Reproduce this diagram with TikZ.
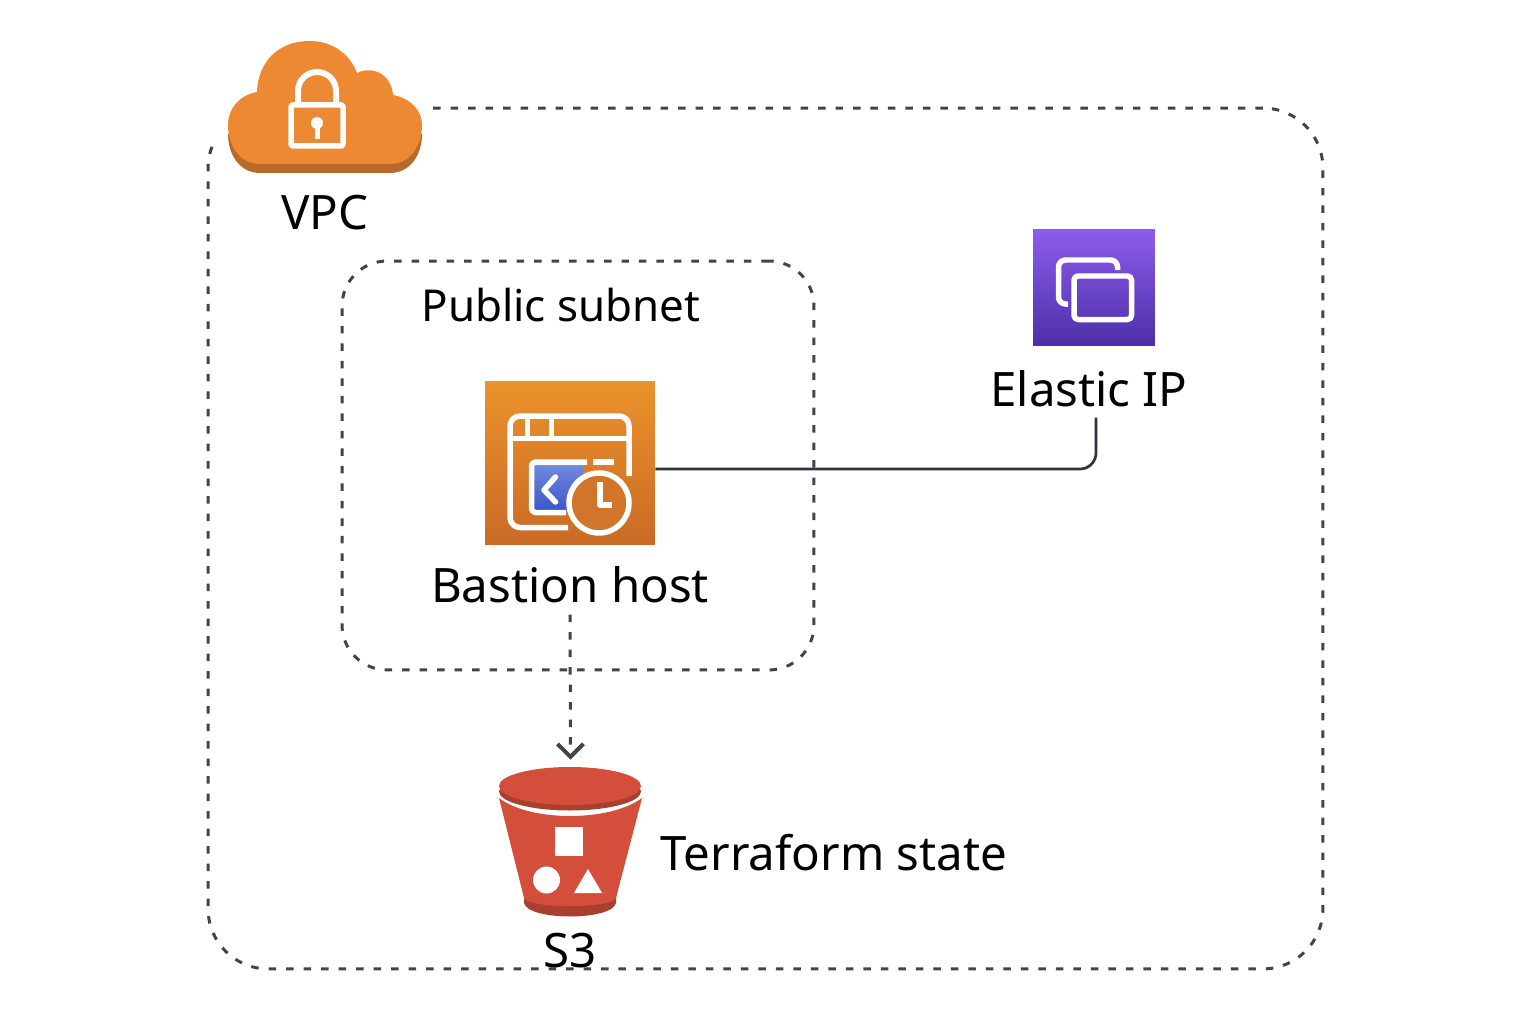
\documentclass[tikz,border=0pt]{standalone}
\usepackage{fontspec}
\setmainfont{Noto Sans}
\usetikzlibrary{arrows.meta, positioning}
\definecolor{boxline}{HTML}{444444}
\definecolor{linkline}{HTML}{2E3440}
\definecolor{cloudfg}{HTML}{EE8933}
\definecolor{cloudbg}{HTML}{B96A2B}
\definecolor{bucketfg}{HTML}{D34E3B}
\definecolor{bucketbg}{HTML}{A8402F}
\definecolor{hosttop}{HTML}{EB932C}
\definecolor{hostbot}{HTML}{C96A26}
\definecolor{clockbg}{HTML}{D2752A}
\definecolor{paneltop}{HTML}{7088DD}
\definecolor{panelbot}{HTML}{3D55CB}
\definecolor{eiptop}{HTML}{8C5CEC}
\definecolor{eipbot}{HTML}{4D2FA8}

\begin{document}
\begin{tikzpicture}[
    x=0.02cm, y=-0.02cm,
    every node/.style={font=\fontsize{27}{31}\selectfont, inner sep=0pt},
    region/.style={rectangle, draw=boxline, line width=0.06cm,
                   dash pattern=on 0.15cm off 0.2cm},
    ghost/.style={rectangle, minimum width=#1},
    glyph/.style={draw=white, line width=0.11cm, line join=round},
    arr/.style={-{Straight Barb[length=0.26cm, width=0.52cm, line width=0.08cm]},
                draw=boxline, line width=0.06cm, dash pattern=on 0.15cm off 0.2cm},
    link/.style={draw=linkline, line width=0.055cm, rounded corners=0.32cm}
]
    \useasboundingbox (0,0) rectangle (1536,1024);

    % regions
    \node[region, rounded corners=1.2cm, minimum width=22.3cm, minimum height=17.22cm] (vpc) at (765.5,538.5) {};
    \node[region, rounded corners=0.9cm, minimum width=9.44cm, minimum height=8.18cm] (subnet) at (578,465.5) {};
    \fill[white] (214,30) rectangle (424,180);

    % cloud
    \node[ghost=3.88cm, minimum height=2.66cm] (cloud) at (325,107) {};
    \fill[cloudbg, yshift=-0.18cm] (260,164) .. controls (240,164) and (228,146) .. (228,125) -- (422,125) .. controls (422,146) and (410,164) .. (390,164) -- cycle;
    \fill[cloudfg] (260,164) .. controls (240,164) and (228,146) .. (228,125)
        .. controls (228,108) and (240,95) .. (257,92)
        .. controls (258,62) and (278,41) .. (310,41)
        .. controls (332,41) and (350,54) .. (357,73)
        .. controls (370,66) and (391,72) .. (393,95)
        .. controls (410,98) and (422,110) .. (422,125)
        .. controls (422,146) and (410,164) .. (390,164) -- cycle;
    \draw[glyph, rounded corners=0.04cm] (291,105) rectangle (343,146);
    \draw[glyph, line width=0.12cm] (298,105) -- (298,91) arc[start angle=180, end angle=360, radius=19] -- (336,105);
    \fill[white] (317,123) circle[radius=6];
    \fill[white] (314.5,123) rectangle (319.5,139);
    \node[below=0.42cm of cloud] (vpclabel) {VPC};

    \node[above=0pt, font=\fontsize{25}{29}\selectfont] (subnetlabel) at (561,322) {Public subnet};

    % bastion host
    \node[rectangle, minimum width=3.4cm, minimum height=3.28cm, top color=hosttop, bottom color=hostbot] (bastion) at (570,463) {};
    \draw[glyph, rounded corners=0.2cm] (568,527.5) -- (510,527.5) -- (510,416) -- (629,416) -- (629,476);
    \draw[glyph] (510,438.5) -- (629,438.5);
    \draw[glyph] (527.5,416) -- (527.5,438.5);
    \draw[glyph] (551.5,416) -- (551.5,438.5);
    \fill[top color=paneltop, bottom color=panelbot] (534,466) rectangle (583,510);
    \draw[glyph, rounded corners=0.08cm] (587,462) -- (531.5,462) -- (531.5,512.5) -- (566,512.5);
    \draw[glyph] (593,462) -- (614,462);
    \draw[glyph, line cap=round] (555.5,477) -- (544,490) -- (555.5,502);
    \draw[glyph, fill=clockbg] (599,503) circle[radius=30];
    \draw[glyph] (600,482) -- (600,505) -- (612,505);
    \node[below=0.42cm of bastion] (bastionlabel) {Bastion host};

    % elastic ip
    \node[rectangle, minimum width=2.44cm, minimum height=2.34cm, top color=eiptop, bottom color=eipbot] (eip) at (1094,287.5) {};
    \draw[glyph, rounded corners=0.14cm] (1068,304) -- (1058.5,304) -- (1058.5,260) -- (1117.5,260) -- (1117.5,270);
    \draw[glyph, rounded corners=0.08cm] (1074,276) rectangle (1131.5,319.5);
    \node[below=0.48cm of eip, xshift=-0.1cm] (eiplabel) {Elastic IP};

    % s3 bucket
    \node[ghost=2.86cm, minimum height=3cm] (s3) at (570.5,842) {};
    \fill[bucketbg] (524,895) -- (616,895) -- (616,903) .. controls (612,921) and (528,921) .. (524,903) -- cycle;
    \fill[bucketfg] (499,798) .. controls (530,822) and (610,822) .. (642,798) -- (616,898) .. controls (610,909) and (530,909) .. (524,898) -- cycle;
    \fill[bucketbg] (570,791.5) ellipse[x radius=71, y radius=19];
    \fill[bucketfg] (570,786) ellipse[x radius=71, y radius=19];
    \fill[white] (555,827) rectangle (583,856);
    \fill[white] (546.5,880) circle[radius=13.5];
    \fill[white] (588,869) -- (574,893) -- (602,893) -- cycle;
    \node[below=0.3cm of s3] (s3label) {S3};
    \node[right=0.36cm of s3, yshift=-0.22cm] (statelabel) {Terraform state};

    \draw[link] ([yshift=-0.12cm]bastion.east) -| ([shift={(0.14cm,-0.2cm)}]eiplabel.south);
    \draw[arr, shorten >=0.14cm, shorten <=0.22cm] (bastionlabel.south) -- (s3.north);
\end{tikzpicture}
\end{document}
